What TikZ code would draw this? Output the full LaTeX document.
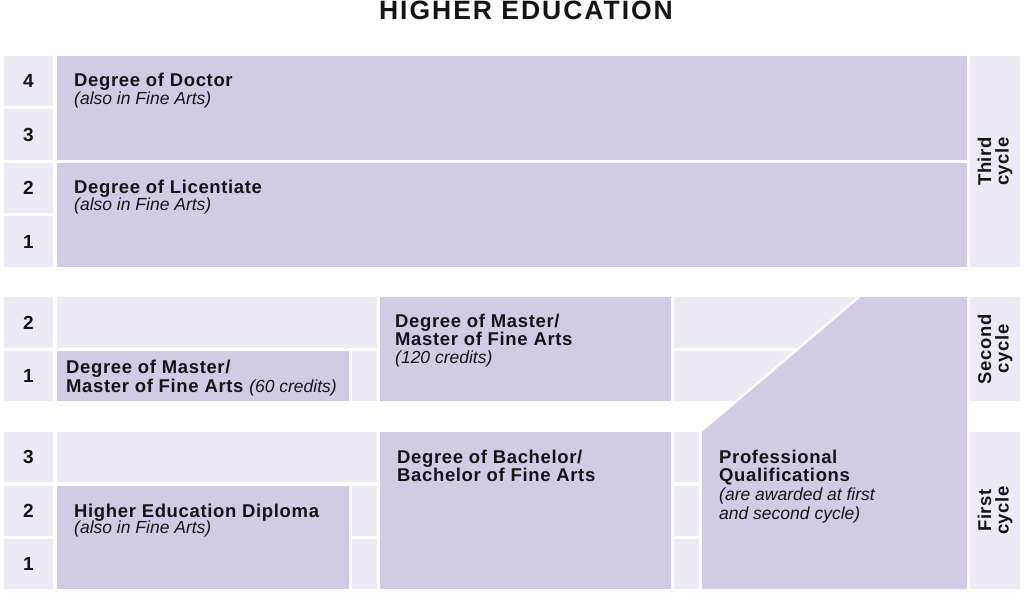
\documentclass[tikz,border=0pt]{standalone}
\usepackage{fontspec}
\setmainfont{Liberation Sans}
\newfontfamily\labfont[LetterSpace=3.5]{Liberation Sans}
\newfontfamily\titlefont[LetterSpace=7.5]{Liberation Sans}
\definecolor{pur}{RGB}{211,202,230}
\definecolor{lit}{RGB}{237,233,245}
\definecolor{ink}{RGB}{20,20,20}
\begin{document}
\begin{tikzpicture}[x=1pt,y=-1pt,
  pbox/.style={fill=pur},
  lbox/.style={fill=lit},
  lab/.style={anchor=base west, inner sep=0pt, text=ink, font=\labfont\bfseries\fontsize{18.5}{18}\selectfont},
  note/.style={anchor=base west, inner sep=0pt, text=ink, font=\rmfamily\itshape\fontsize{17.5}{18}\selectfont},
  num/.style={anchor=base, inner sep=0pt, text=ink, font=\rmfamily\bfseries\fontsize{19}{18}\selectfont},
  cyc/.style={rotate=90, align=center, inner sep=0pt, text=ink, font=\labfont\bfseries\fontsize{18.5}{17.5}\selectfont},
  ttl/.style={anchor=base, inner sep=0pt, text=ink, font=\titlefont\bfseries\fontsize{26.5}{27}\selectfont}
]
\useasboundingbox[fill=white] (0,0) rectangle (1024,593);

\node[ttl] (title) at (526,19.5) {HIGHER EDUCATION};

% ---------- Third cycle ----------
\fill[lbox] (4,56) rectangle (53,106.5);
\fill[lbox] (4,109.5) rectangle (53,160);
\fill[lbox] (4,163) rectangle (53,213.5);
\fill[lbox] (4,216.5) rectangle (53,267);
\fill[pbox] (57,56) rectangle (967,160);
\fill[pbox] (57,163) rectangle (967,267);
\fill[lbox] (970,56) rectangle (1020,267);

\node[num] (t4) at (28.5,88) {4};
\node[num] (t3) at (28.5,141.5) {3};
\node[num] (t2) at (28.5,195) {2};
\node[num] (t1) at (28.5,248.5) {1};

\node[lab] (doc) at (74,87) {Degree of Doctor};
\node[note] (docn) at (74,104.5) {(also in Fine Arts)};
\node[lab] (lic) at (74,193.5) {Degree of Licentiate};
\node[note] (licn) at (74,211) {(also in Fine Arts)};
\node[cyc] (third) at (995,161.5) {Third\\cycle};

% ---------- Second cycle ----------
\fill[lbox] (4,297) rectangle (53,348);
\fill[lbox] (4,351) rectangle (53,401);
\fill[lbox] (57,297) rectangle (377,348);
\fill[pbox] (57,351) rectangle (349,401);
\fill[lbox] (352,351) rectangle (377,401);
\fill[pbox] (380,297) rectangle (671,401);
\fill[lbox] (674,297) -- (857,297) -- (797,348) -- (674,348) -- cycle;
\fill[lbox] (674,351) -- (793.4,351) -- (734.5,401) -- (674,401) -- cycle;
\fill[lbox] (970,297) rectangle (1020,401);

\node[num] (s2) at (28.5,329.25) {2};
\node[num] (s1) at (28.5,382.75) {1};

\node[lab] (m60a) at (66,373.5) {Degree of Master/};
\node[lab] (m60b) at (66,392.5) {Master of Fine Arts {\rmfamily\mdseries\itshape\fontsize{17.5}{18}\selectfont (60 credits)}};
\node[lab] (m120a) at (395,327.5) {Degree of Master/};
\node[lab] (m120b) at (395,345.5) {Master of Fine Arts};
\node[note] (m120n) at (395,363.5) {(120 credits)};
\node[cyc] (second) at (995,349) {Second\\cycle};

% ---------- First cycle ----------
\fill[lbox] (4,432) rectangle (53,482);
\fill[lbox] (4,485.5) rectangle (53,536);
\fill[lbox] (4,539) rectangle (53,589);
\fill[lbox] (57,432) rectangle (377,482);
\fill[pbox] (57,485.5) rectangle (349,589);
\fill[lbox] (352,485.5) rectangle (377,536);
\fill[lbox] (352,539) rectangle (377,589);
\fill[pbox] (380,432) rectangle (671,589);
\fill[lbox] (674,432) rectangle (699,482);
\fill[lbox] (674,485.5) rectangle (699,536);
\fill[lbox] (674,539) rectangle (699,589);
\fill[pbox] (702,589) -- (702,432) -- (861,297) -- (967,297) -- (967,589) -- cycle;
\fill[lbox] (970,432) rectangle (1020,589);

\node[num] (f3) at (28.5,463.75) {3};
\node[num] (f2) at (28.5,517.5) {2};
\node[num] (f1) at (28.5,570.75) {1};

\node[lab] (bach1) at (397,463) {Degree of Bachelor/};
\node[lab] (bach2) at (397,481) {Bachelor of Fine Arts};
\node[lab] (dip) at (74,517) {Higher Education Diploma};
\node[note] (dipn) at (74,533.5) {(also in Fine Arts)};
\node[lab] (prof1) at (719,463) {Professional};
\node[lab] (prof2) at (719,481) {Qualifications};
\node[note] (prof3) at (719,500.5) {(are awarded at first};
\node[note] (prof4) at (719,519) {and second cycle)};
\node[cyc] (first) at (995,510.5) {First\\cycle};
\end{tikzpicture}
\end{document}
